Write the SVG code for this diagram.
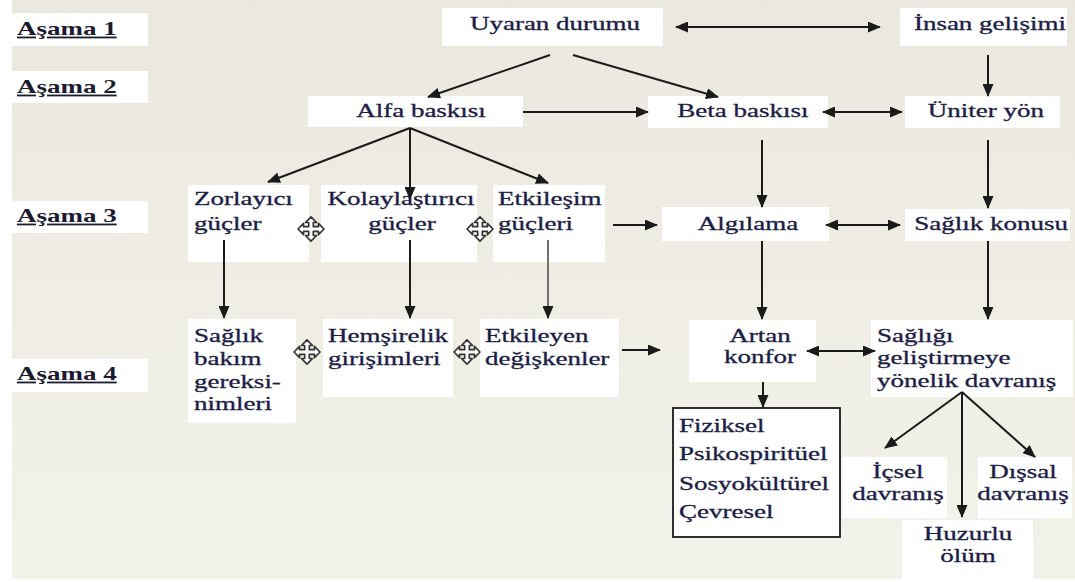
<svg xmlns="http://www.w3.org/2000/svg" width="1075" height="582" viewBox="0 0 1075 582">
<style>
.box{fill:#ffffff}
.fbox{fill:#ffffff;stroke:#1a1a1a;stroke-width:1.8}
.t{font-family:"Liberation Serif","Times New Roman",serif;font-size:18px;fill:#1c1d45;stroke:#1c1d45;stroke-width:0.3}
.m{text-anchor:middle}
.stage{font-family:"Liberation Serif","Times New Roman",serif;font-size:18px;font-weight:bold;fill:#1a1a30;text-decoration:underline}
.c{stroke:#1a1a1a;stroke-width:2;fill:none}
.c1{marker-end:url(#ah)}
.c2{marker-end:url(#ah);marker-start:url(#ah)}
.gray{stroke:#707070}
.mv{fill:#ffffff;stroke:#333333;stroke-width:1.8;stroke-linejoin:round}
</style>
<defs>
<linearGradient id="bg" x1="0" y1="0" x2="0" y2="1">
<stop offset="0" stop-color="#eae8de"/>
<stop offset="1" stop-color="#f3f2ea"/>
</linearGradient>
<marker id="ah" markerUnits="userSpaceOnUse" markerWidth="13" markerHeight="11" refX="12" refY="5.5" orient="auto-start-reverse">
<path d="M0,0 L13,5.5 L0,11 z" fill="#1a1a1a"/>
</marker>
<symbol id="move" viewBox="-15 -14 30 28" overflow="visible">
<polygon class="mv" points="0,-13 6,-7 2.5,-7 2.5,-2.5 8,-2.5 8,-6 14,0 8,6 8,2.5 2.5,2.5 2.5,7 6,7 0,13 -6,7 -2.5,7 -2.5,2.5 -8,2.5 -8,6 -14,0 -8,-6 -8,-2.5 -2.5,-2.5 -2.5,-7 -6,-7"/>
</symbol>
</defs>
<rect x="0" y="0" width="1075" height="582" fill="#ffffff"/>
<rect x="12" y="0" width="1063" height="579" fill="url(#bg)"/>

<g id="stages">
<g id="asama1"><rect class="box" x="12" y="13" width="136" height="33"/><text class="stage" transform="scale(1.5,1)" x="11.3" y="35">Aşama 1</text></g>
<g id="asama2"><rect class="box" x="12" y="71" width="136" height="32"/><text class="stage" transform="scale(1.5,1)" x="11.3" y="93">Aşama 2</text></g>
<g id="asama3"><rect class="box" x="12" y="201" width="136" height="32"/><text class="stage" transform="scale(1.5,1)" x="11.3" y="222">Aşama 3</text></g>
<g id="asama4"><rect class="box" x="12" y="359" width="136" height="33"/><text class="stage" transform="scale(1.5,1)" x="11.3" y="380">Aşama 4</text></g>
</g>

<g id="uyaran"><rect class="box" x="442" y="8" width="221" height="38"/><text class="t m" transform="scale(1.5,1)" x="370" y="30">Uyaran durumu</text></g>
<g id="insan"><rect class="box" x="900" y="8" width="167" height="38"/><text class="t m" transform="scale(1.5,1)" x="660" y="30">İnsan gelişimi</text></g>
<g id="alfa"><rect class="box" x="308" y="96" width="215" height="31"/><text class="t m" transform="scale(1.5,1)" x="280.7" y="117">Alfa baskısı</text></g>
<g id="beta"><rect class="box" x="648" y="96" width="180" height="32"/><text class="t m" transform="scale(1.5,1)" x="495.3" y="117">Beta baskısı</text></g>
<g id="uniter"><rect class="box" x="905" y="96" width="155" height="32"/><text class="t m" transform="scale(1.5,1)" x="657.3" y="117">Üniter yön</text></g>

<g id="zorlayici"><rect class="box" x="188" y="185" width="121" height="77"/><text class="t" transform="scale(1.5,1)" x="129.3" y="205">Zorlayıcı</text><text class="t" transform="scale(1.5,1)" x="129.3" y="230">güçler</text></g>
<g id="kolaylastirici"><rect class="box" x="321" y="185" width="156" height="77"/><text class="t m" transform="scale(1.5,1)" x="267.3" y="205">Kolaylaştırıcı</text><text class="t m" transform="scale(1.5,1)" x="268" y="230">güçler</text></g>
<g id="etkilesim"><rect class="box" x="493" y="185" width="112" height="77"/><text class="t" transform="scale(1.5,1)" x="332" y="205">Etkileşim</text><text class="t" transform="scale(1.5,1)" x="332" y="230">güçleri</text></g>
<g id="algilama"><rect class="box" x="662" y="207" width="167" height="34"/><text class="t m" transform="scale(1.5,1)" x="498.7" y="230">Algılama</text></g>
<g id="saglikkonusu"><rect class="box" x="905" y="209" width="165" height="32"/><text class="t m" transform="scale(1.5,1)" x="660.7" y="230">Sağlık konusu</text></g>

<g id="saglikbakim"><rect class="box" x="188" y="319" width="108" height="104"/><text class="t" transform="scale(1.5,1)" x="129.3" y="342">Sağlık</text><text class="t" transform="scale(1.5,1)" x="129.3" y="365">bakım</text><text class="t" transform="scale(1.5,1)" x="129.3" y="388">gereksi-</text><text class="t" transform="scale(1.5,1)" x="129.3" y="410">nimleri</text></g>
<g id="hemsirelik"><rect class="box" x="323" y="319" width="130" height="78"/><text class="t" transform="scale(1.5,1)" x="218.7" y="342">Hemşirelik</text><text class="t" transform="scale(1.5,1)" x="218.7" y="365">girişimleri</text></g>
<g id="etkileyen"><rect class="box" x="480" y="319" width="139" height="78"/><text class="t" transform="scale(1.5,1)" x="323.3" y="342">Etkileyen</text><text class="t" transform="scale(1.5,1)" x="323.3" y="365">değişkenler</text></g>
<g id="artan"><rect class="box" x="689" y="320" width="127" height="62"/><text class="t m" transform="scale(1.5,1)" x="506.7" y="342">Artan</text><text class="t m" transform="scale(1.5,1)" x="506.7" y="363">konfor</text></g>
<g id="sagligi"><rect class="box" x="871" y="320" width="202" height="77"/><text class="t" transform="scale(1.5,1)" x="584.7" y="342">Sağlığı</text><text class="t" transform="scale(1.5,1)" x="584.7" y="364">geliştirmeye</text><text class="t" transform="scale(1.5,1)" x="584.7" y="387">yönelik davranış</text></g>

<g id="fiziksel"><rect class="fbox" x="673" y="408" width="167" height="129"/><text class="t" transform="scale(1.5,1)" x="452.7" y="432">Fiziksel</text><text class="t" transform="scale(1.5,1)" x="452.7" y="460">Psikospiritüel</text><text class="t" transform="scale(1.5,1)" x="452.7" y="490">Sosyokültürel</text><text class="t" transform="scale(1.5,1)" x="452.7" y="518">Çevresel</text></g>
<g id="icsel"><rect class="box" x="842" y="457" width="105" height="61"/><text class="t m" transform="scale(1.5,1)" x="598.7" y="478">İçsel</text><text class="t m" transform="scale(1.5,1)" x="598.7" y="500">davranış</text></g>
<g id="dissal"><rect class="box" x="978" y="457" width="94" height="61"/><text class="t m" transform="scale(1.5,1)" x="682" y="478">Dışsal</text><text class="t m" transform="scale(1.5,1)" x="682" y="500">davranış</text></g>
<g id="huzurlu"><rect class="box" x="902" y="520" width="131" height="60"/><text class="t m" transform="scale(1.5,1)" x="645.3" y="540">Huzurlu</text><text class="t m" transform="scale(1.5,1)" x="645.3" y="562">ölüm</text></g>

<g id="plus-signs">
<use href="#move" x="296" y="216" width="30" height="26"/>
<use href="#move" x="465" y="216" width="30" height="26"/>
<use href="#move" x="292" y="339" width="30" height="26"/>
<use href="#move" x="452" y="339" width="30" height="26"/>
</g>

<g id="connectors">
<path class="c c2" d="M676,27 H880"/>
<path class="c c1" d="M550,55 L428,97"/>
<path class="c c1" d="M573,55 L718,97"/>
<path class="c c1" d="M988,55 V96"/>
<path class="c c1" d="M523,112 H648"/>
<path class="c c2" d="M823,112 H902"/>
<path class="c c1" d="M410,128 L268,182"/>
<path class="c c1" d="M410,128 V199"/>
<path class="c c1" d="M410,128 L548,183"/>
<path class="c c1" d="M762,140 V207"/>
<path class="c c1" d="M988,140 V208"/>
<path class="c c1" d="M613,225 H657"/>
<path class="c c2" d="M826,225 H900"/>
<path class="c c1" d="M224,240 V318"/>
<path class="c c1" d="M410,240 V318"/>
<path class="c gray" d="M548,240 V308"/>
<path class="c c1" d="M548,306 V318"/>
<path class="c c1" d="M762,241 V319"/>
<path class="c c1" d="M988,241 V319"/>
<path class="c c1" d="M622,350 H660"/>
<path class="c c2" d="M807,351 H875"/>
<path class="c c1" d="M763,382 V407"/>
<path class="c c1" d="M962,392 L885,448"/>
<path class="c c1" d="M962,392 V517"/>
<path class="c c1" d="M962,392 L1035,457"/>
</g>
</svg>
